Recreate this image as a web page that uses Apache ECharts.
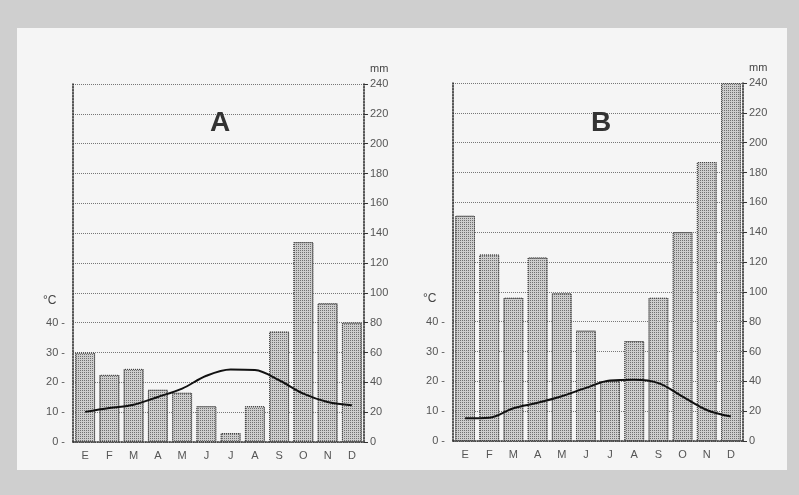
<!DOCTYPE html>
<html>
<head>
<meta charset="utf-8">
<script src="https://cdn.jsdelivr.net/npm/echarts@6/dist/echarts.min.js"></script>
<style>
  html, body { margin: 0; padding: 0; background: #cfcfcf; }
  #chart { width: 799px; height: 495px; }
</style>
</head>
<body>
<div id="chart"></div>
<script>
// meses (E = enero ... D = diciembre)
const months = ['E', 'F', 'M', 'A', 'M', 'J', 'J', 'A', 'S', 'O', 'N', 'D'];

// climograma A
const rainA = [60, 45, 49, 35, 33, 24, 6, 24, 74, 134, 93, 80];
const tempA = [10.1, 11.4, 12.5, 15.1, 17.9, 22.2, 24.3, 24.1, 20.7, 16.2, 13.4, 12.3];

// climograma B
const rainB = [151, 125, 96, 123, 99, 74, 40, 67, 96, 140, 187, 240];
const tempB = [7.6, 7.8, 11, 12.8, 15, 17.8, 20.3, 20.5, 19.4, 14.9, 10.4, 8.2];

const labelColor = '#555';
const font = 'Liberation Sans, Arial, sans-serif';

// textura punteada de las barras
const barStyle = {
    color: '#cdcdcd',
    borderColor: '#444',
    borderWidth: 1,
    borderType: 'dotted',
    decal: {
        symbol: 'rect',
        symbolSize: 1,
        color: 'rgba(50,50,50,0.6)',
        dashArrayX: [1, 1],
        dashArrayY: [1, 1]
    }
};

function tempAxis(grid) {
    return {
        type: 'value', gridIndex: grid, position: 'left',
        min: 0, max: 120, interval: 10,
        axisLine: { show: true, lineStyle: { color: '#222', type: 'dotted', width: 1.5 } },
        axisTick: { show: false },
        splitLine: { show: false },
        axisLabel: {
            color: labelColor, fontSize: 11, fontFamily: font, margin: 8,
            formatter: v => (v <= 40 ? v + ' -' : '')
        }
    };
}

function rainAxis(grid) {
    return {
        type: 'value', gridIndex: grid, position: 'right',
        min: 0, max: 240, interval: 20,
        name: 'mm', nameGap: 10,
        nameTextStyle: { color: '#444', fontSize: 11, fontFamily: font, align: 'left', padding: [0, 0, 0, 6] },
        axisLine: { show: true, lineStyle: { color: '#222', type: 'dotted', width: 1.5 } },
        axisTick: { show: true, length: 4, lineStyle: { color: '#333' } },
        splitLine: { show: true, lineStyle: { color: '#777', type: 'dotted', width: 1 } },
        axisLabel: { color: labelColor, fontSize: 11, fontFamily: font, margin: 6 }
    };
}

function monthAxis(grid) {
    return {
        type: 'category', gridIndex: grid, data: months,
        axisLine: { show: true, lineStyle: { color: '#333', type: 'dotted', width: 1.5 } },
        axisTick: { show: false },
        axisLabel: { color: labelColor, fontSize: 11, fontFamily: font, margin: 8 }
    };
}

const chart = echarts.init(document.getElementById('chart'));
chart.setOption({
    backgroundColor: '#cfcfcf',
    animation: false,
    graphic: [
        { type: 'rect', left: 17, top: 28, shape: { width: 770, height: 442 }, style: { fill: '#f5f5f5' }, z: -10 },
        { type: 'text', left: 43, top: 295, style: { text: '°C', fill: '#444', font: '12px ' + font } },
        { type: 'text', left: 423, top: 293, style: { text: '°C', fill: '#444', font: '12px ' + font } }
    ],
    title: [
        { text: 'A', left: 205, top: 104, textStyle: { fontSize: 28, fontWeight: 'bold', color: '#333', fontFamily: font } },
        { text: 'B', left: 586, top: 104, textStyle: { fontSize: 28, fontWeight: 'bold', color: '#333', fontFamily: font } }
    ],
    grid: [
        { left: 73, top: 84, width: 291, height: 358 },
        { left: 453, top: 83, width: 290, height: 358 }
    ],
    xAxis: [monthAxis(0), monthAxis(1)],
    yAxis: [tempAxis(0), rainAxis(0), tempAxis(1), rainAxis(1)],
    series: [
        { type: 'bar', xAxisIndex: 0, yAxisIndex: 1, data: rainA, barCategoryGap: '18%', itemStyle: barStyle },
        { type: 'line', xAxisIndex: 0, yAxisIndex: 0, data: tempA, smooth: 0.35, showSymbol: false,
          lineStyle: { color: '#111', width: 2 }, z: 5 },
        { type: 'bar', xAxisIndex: 1, yAxisIndex: 3, data: rainB, barCategoryGap: '18%', itemStyle: barStyle },
        { type: 'line', xAxisIndex: 1, yAxisIndex: 2, data: tempB, smooth: 0.35, showSymbol: false,
          lineStyle: { color: '#111', width: 2 }, z: 5 }
    ]
});
</script>
</body>
</html>
